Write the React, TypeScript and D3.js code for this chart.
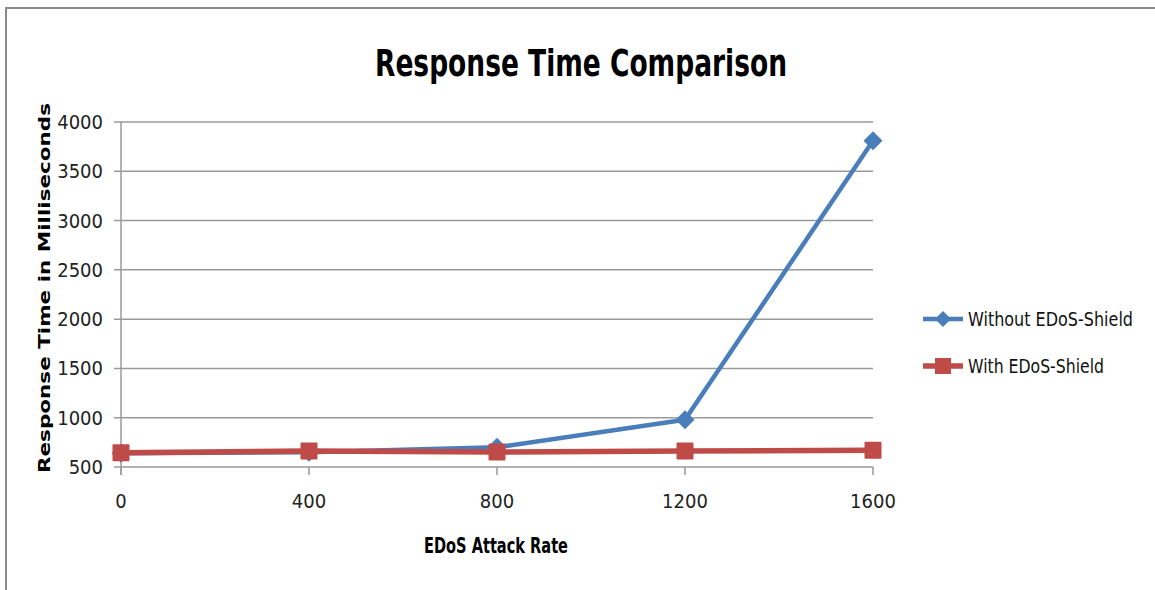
import React, { useEffect, useRef } from "react";
import * as d3 from "d3";

// Attack rate categories and measured response times (ms)
const attackRates = [0, 400, 800, 1200, 1600];
const withoutShield = [640, 650, 700, 980, 3810];
const withShield = [645, 662, 652, 662, 670];
const yTicks = [500, 1000, 1500, 2000, 2500, 3000, 3500, 4000];
const seriesNames = ["Without EDoS-Shield", "With EDoS-Shield"];
const legendWidths = [165, 136];

const W = 1155;
const H = 590;
const BLUE = "#4a7ebb";
const RED = "#be4b48";
const LABEL_FONT = "'Liberation Sans Narrow', 'DejaVu Sans Condensed', 'Open Sans', sans-serif";

export default function App() {
  const ref = useRef<SVGSVGElement | null>(null);

  useEffect(() => {
    const svg = d3.select(ref.current);
    svg.selectAll("*").remove();

    const left = 121, right = 873, top = 122, bottom = 467;
    const x = d3.scalePoint<number>().domain(attackRates).range([left, right]);
    const y = d3.scaleLinear().domain([500, 4000]).range([bottom, top]);

    // outer frame
    svg.append("path")
      .attr("d", `M6,${H} L6,8 L${W},8`)
      .attr("fill", "none")
      .attr("stroke", "#8a8a8a")
      .attr("stroke-width", 2);

    // title
    svg.append("text")
      .attr("x", 581).attr("y", 76)
      .attr("text-anchor", "middle")
      .attr("font-family", LABEL_FONT)
      .attr("font-weight", "bold")
      .attr("font-size", 38)
      .attr("textLength", 412)
      .attr("lengthAdjust", "spacingAndGlyphs")
      .attr("fill", "#000")
      .text("Response Time Comparison");

    // horizontal gridlines + y ticks
    const grid = svg.append("g");
    yTicks.forEach((t) => {
      grid.append("line")
        .attr("x1", left - 7).attr("x2", right)
        .attr("y1", y(t)).attr("y2", y(t))
        .attr("stroke", "#9a9a9a").attr("stroke-width", 1.5);
      grid.append("text")
        .attr("x", 103).attr("y", y(t) + 7)
        .attr("text-anchor", "end")
        .attr("font-family", LABEL_FONT)
        .attr("font-size", 20)
        .attr("fill", "#222")
        .text(String(t));
    });

    // y axis line
    svg.append("line")
      .attr("x1", left).attr("x2", left)
      .attr("y1", top).attr("y2", bottom + 8)
      .attr("stroke", "#9a9a9a").attr("stroke-width", 1.5);

    // x ticks and labels
    attackRates.forEach((r) => {
      svg.append("line")
        .attr("x1", x(r)!).attr("x2", x(r)!)
        .attr("y1", bottom).attr("y2", bottom + 8)
        .attr("stroke", "#9a9a9a").attr("stroke-width", 1.5);
      svg.append("text")
        .attr("x", x(r)!).attr("y", 508)
        .attr("text-anchor", "middle")
        .attr("font-family", LABEL_FONT)
        .attr("font-size", 20)
        .attr("fill", "#222")
        .text(String(r));
    });

    // axis titles
    svg.append("text")
      .attr("x", 496).attr("y", 553)
      .attr("text-anchor", "middle")
      .attr("font-family", LABEL_FONT)
      .attr("font-weight", "bold")
      .attr("font-size", 22)
      .attr("textLength", 144)
      .attr("lengthAdjust", "spacingAndGlyphs")
      .attr("fill", "#000")
      .text("EDoS Attack Rate");

    svg.append("text")
      .attr("transform", `translate(50,288) rotate(-90)`)
      .attr("text-anchor", "middle")
      .attr("font-family", "'DejaVu Sans', sans-serif")
      .attr("font-weight", "bold")
      .attr("font-size", 16)
      .attr("textLength", 370)
      .attr("lengthAdjust", "spacingAndGlyphs")
      .attr("fill", "#000")
      .text("Response Time in Milliseconds");

    const line = d3.line<number>()
      .x((_, i) => x(attackRates[i])!)
      .y((d) => y(d));

    const diamond = (cx: number, cy: number, r: number) =>
      `M${cx},${cy - r} L${cx + r},${cy} L${cx},${cy + r} L${cx - r},${cy} Z`;

    // series: without shield (blue diamonds)
    svg.append("path")
      .attr("d", line(withoutShield)!)
      .attr("fill", "none")
      .attr("stroke", BLUE).attr("stroke-width", 4.5)
      .attr("stroke-linejoin", "round");
    withoutShield.forEach((v, i) => {
      svg.append("path")
        .attr("d", diamond(x(attackRates[i])!, y(v), 9.5))
        .attr("fill", BLUE);
    });

    // series: with shield (red squares)
    svg.append("path")
      .attr("d", line(withShield)!)
      .attr("fill", "none")
      .attr("stroke", RED).attr("stroke-width", 5.5)
      .attr("stroke-linejoin", "round");
    withShield.forEach((v, i) => {
      svg.append("rect")
        .attr("x", x(attackRates[i])! - 8.5).attr("y", y(v) - 8.5)
        .attr("width", 17).attr("height", 17)
        .attr("rx", 1)
        .attr("fill", RED);
    });

    // legend
    const legendY = [319, 366];
    const colors = [BLUE, RED];
    seriesNames.forEach((name, i) => {
      const ly = legendY[i];
      svg.append("line")
        .attr("x1", 923).attr("x2", 963)
        .attr("y1", ly).attr("y2", ly)
        .attr("stroke", colors[i]).attr("stroke-width", i === 0 ? 4.5 : 5.5);
      if (i === 0) {
        svg.append("path").attr("d", diamond(943, ly, 8)).attr("fill", BLUE);
      } else {
        svg.append("rect")
          .attr("x", 935).attr("y", ly - 8)
          .attr("width", 16).attr("height", 16)
          .attr("fill", RED);
      }
      svg.append("text")
        .attr("x", 968).attr("y", ly + 7)
        .attr("font-family", LABEL_FONT)
        .attr("font-size", 19)
        .attr("textLength", legendWidths[i])
        .attr("lengthAdjust", "spacingAndGlyphs")
        .attr("fill", "#111")
        .text(name);
    });
  }, []);

  return (
    <svg
      ref={ref}
      width={W}
      height={H}
      style={{ position: "absolute", left: 0, top: 0, background: "#fff" }}
    />
  );
}
